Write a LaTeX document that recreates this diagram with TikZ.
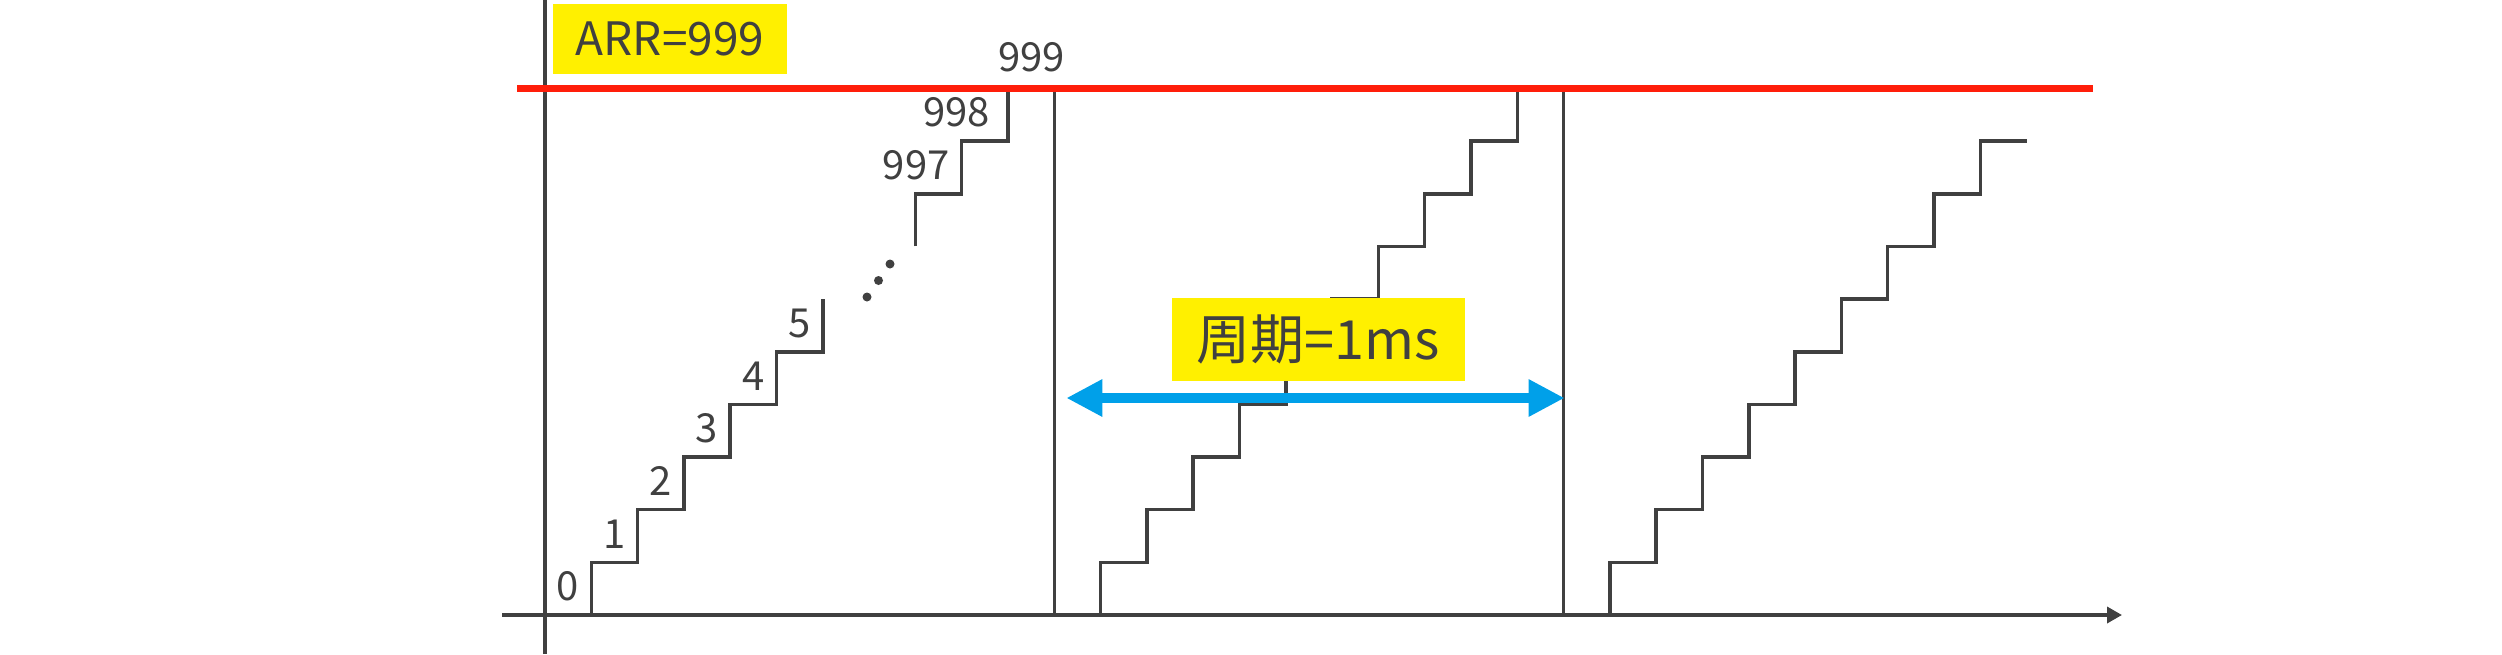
\documentclass[tikz,border=0pt]{standalone}
\usepackage{fontspec}
\setmainfont{Noto Sans CJK SC}
\usetikzlibrary{arrows.meta,positioning,calc}
\definecolor{inkgray}{HTML}{404040}
\definecolor{arrred}{HTML}{FF1E0A}
\definecolor{hiyel}{HTML}{FFF000}
\definecolor{perblue}{HTML}{00A0E9}
\tikzset{
  axisln/.style ={draw=inkgray, line width=3.5pt},
  stair/.style  ={draw=inkgray, line width=3.5pt},
  cnt/.style    ={font=\fontsize{40}{40}\selectfont, text=inkgray, inner sep=0pt, anchor=south east},
  tag/.style    ={fill=hiyel, text=inkgray, inner sep=0pt, align=center},
  arrline/.style={draw=arrred, line width=7pt},
  perarrow/.style={draw=perblue, line width=10pt,
                  {Triangle[length=36pt,width=35pt]}-{Triangle[length=36pt,width=35pt]}},
}

\begin{document}
\begin{tikzpicture}[x=1pt, y=-1pt]
\useasboundingbox (0,0) rectangle (2502,654);
\pgfmathsetmacro{\sw}{46.3}   % step width
\pgfmathsetmacro{\sh}{52.65}  % step height
\pgfmathsetmacro{\xo}{545}
\pgfmathsetmacro{\yo}{615}
\pgfmathsetmacro{\pa}{\xo+11*\sw}
\pgfmathsetmacro{\pb}{\xo+22*\sw}

% ---- period marks ----
\coordinate (top1) at (\pa,{\yo-10*\sh});
\coordinate (bot1) at (\pa,\yo);
\coordinate (top2) at (\pb,{\yo-10*\sh});
\coordinate (bot2) at (\pb,\yo);
\draw[axisln] (top1) -- (bot1);
\draw[axisln] (top2) -- (bot2);

% ---- first period: 0..5, gap, 997..999 ----
\draw[stair] (\xo,\yo) \foreach \i in {1,...,6} {
  -- ({\xo+\i*\sw},{\yo-(\i-1)*\sh}) -- ({\xo+\i*\sw},{\yo-\i*\sh}) };
\draw[stair] ({\xo+8*\sw},{\yo-7*\sh}) \foreach \i in {8,9,10} {
  -- ({\xo+\i*\sw},{\yo-\i*\sh}) -- ({\xo+(\i+1)*\sw},{\yo-\i*\sh}) };
\foreach \d in {0,1,2}
  \fill[inkgray] ({867+\d*11.5},{297-\d*16.5}) circle[radius=4.5pt];

% ---- second and third period ----
\draw[stair] (\pa,\yo) \foreach \i in {1,...,10} {
  -- ({\pa+\i*\sw},{\yo-(\i-1)*\sh}) -- ({\pa+\i*\sw},{\yo-\i*\sh}) }
  -- ({\pa+11*\sw},{\yo-10*\sh});
\draw[stair] (\pb,\yo) \foreach \i in {1,...,9} {
  -- ({\pb+\i*\sw},{\yo-(\i-1)*\sh}) -- ({\pb+\i*\sw},{\yo-\i*\sh}) }
  -- ({\pb+10*\sw},{\yo-9*\sh});

% ---- counter values ----
\foreach \k in {0,...,5}
  \node[cnt] (v\k) at ({\xo+(\k+1)*\sw-12},{\yo-\k*\sh-14}) {\k};
\foreach \k/\v/\dx in {8/997/0, 9/998/-6}
  \node[cnt] (v\v) at ({\xo+(\k+1)*\sw-12+\dx},{\yo-\k*\sh-14}) {\v};
\node[cnt] (v999) at ({\xo+11*\sw+11},{\yo-10*\sh-16}) {999};

% ---- axes ----
\coordinate (org) at (\xo,\yo);
\coordinate (xend) at (2122,\yo);
\draw[axisln] (\xo,0) -- (\xo,654);
\draw[axisln, -{Triangle[length=15pt,width=16pt]}] (502,\yo) -- (xend);

% ---- auto-reload line ----
\coordinate (arrl) at (517,{\yo-10*\sh});
\coordinate (arrr) at (2093,{\yo-10*\sh});
\draw[arrline] (arrl) -- (arrr);
\node[tag, minimum width=234pt, minimum height=70pt, font=\fontsize{46}{46}\selectfont] (arr) at (670,39) {ARR=999};

% ---- period ----
\coordinate (pl) at ({\pa+12},398);
\coordinate (pr) at ({\pb+1},398);
\draw[perarrow] (pl) -- (pr);
\node[tag, minimum width=293pt, minimum height=83pt, font=\fontsize{54}{54}\selectfont] (per) at (1318.5,339.5) {周期=1ms};

\end{tikzpicture}
\end{document}
